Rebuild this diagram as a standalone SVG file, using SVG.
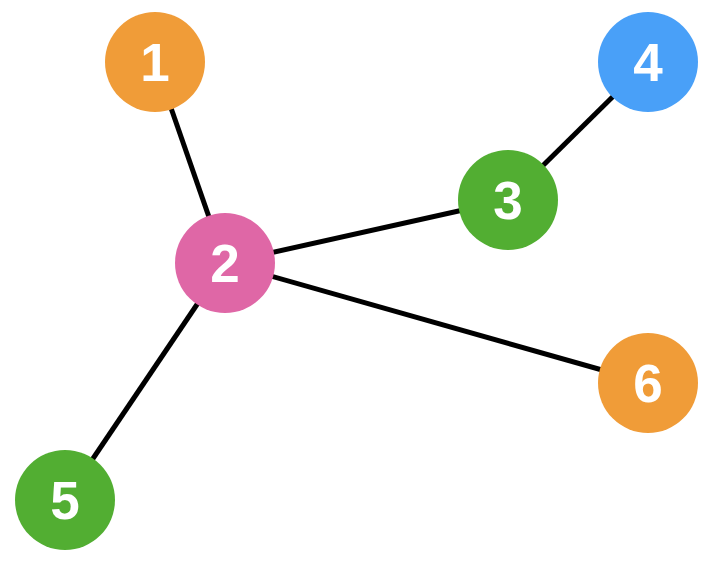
<svg xmlns="http://www.w3.org/2000/svg" width="714" height="562" viewBox="0 0 714 562">
<style>
.edge{stroke:#000;stroke-width:5;fill:none}
.lbl{font-family:"Liberation Sans",Arial,sans-serif;font-weight:bold;font-size:53px;fill:#fff;text-anchor:middle}
.orange{fill:#F09C38}
.pink{fill:#DF67A6}
.green{fill:#52AE32}
.blue{fill:#49A0F8}
</style>
<rect width="714" height="562" fill="#fff"/>
<g id="edges">
<line class="edge" x1="155" y1="62" x2="225" y2="263"/>
<line class="edge" x1="225" y1="263" x2="508" y2="200"/>
<line class="edge" x1="508" y1="200" x2="648" y2="62"/>
<line class="edge" x1="225" y1="263" x2="65" y2="500"/>
<line class="edge" x1="225" y1="263" x2="648" y2="383"/>
</g>
<g id="node1"><circle class="orange" cx="155" cy="62" r="50"/><text class="lbl" x="155" y="81">1</text></g>
<g id="node2"><circle class="pink" cx="225" cy="263" r="50"/><text class="lbl" x="225" y="282">2</text></g>
<g id="node3"><circle class="green" cx="508" cy="200" r="50"/><text class="lbl" x="508" y="219">3</text></g>
<g id="node4"><circle class="blue" cx="648" cy="62" r="50"/><text class="lbl" x="648" y="81">4</text></g>
<g id="node5"><circle class="green" cx="65" cy="500" r="50"/><text class="lbl" x="65" y="519">5</text></g>
<g id="node6"><circle class="orange" cx="648" cy="383" r="50"/><text class="lbl" x="648" y="402">6</text></g>
</svg>
